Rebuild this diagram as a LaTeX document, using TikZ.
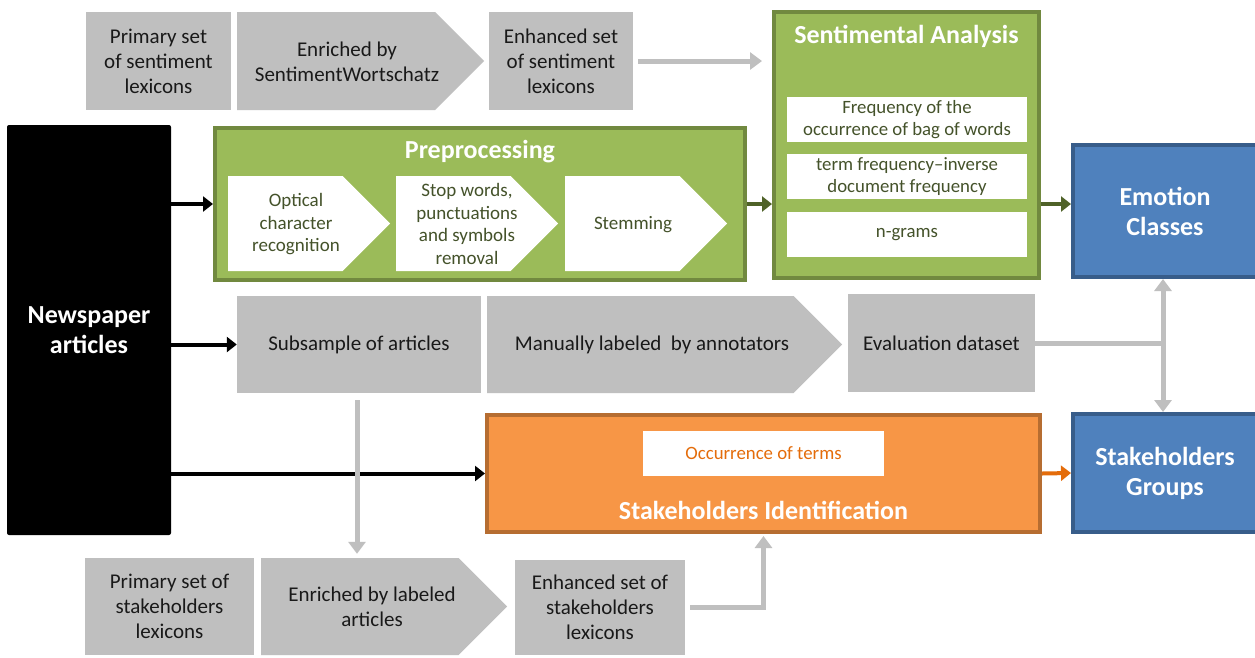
\documentclass[tikz,border=0pt]{standalone}
\usepackage{fontspec}
\setmainfont{Carlito}
\usetikzlibrary{shapes.symbols,arrows.meta,positioning}
\definecolor{lexgray}{HTML}{BFBFBF}
\definecolor{pgreen}{HTML}{9BBB59}
\definecolor{pgreendark}{HTML}{71893F}
\definecolor{arrowgreen}{HTML}{4F6228}
\definecolor{textgreen}{HTML}{44522A}
\definecolor{eblue}{HTML}{4F81BD}
\definecolor{eblueborder}{HTML}{385D8A}
\definecolor{sorange}{HTML}{F79646}
\definecolor{sorangeborder}{HTML}{B66D31}
\definecolor{otext}{HTML}{E46C0A}
\tikzset{
  graytext/.style={align=center, text=black!90, inner sep=0pt, font=\fontsize{21}{25}\selectfont},
  graybox/.style={graytext, fill=lexgray},
  graysig/.style={fill=lexgray, inner sep=0pt, signal, signal to=east, signal pointer angle=90, anchor=west},
  whitesig/.style={fill=white, inner sep=0pt, signal, signal to=east, signal pointer angle=90, anchor=west,
    minimum width=162, minimum height=95},
  sigtext/.style={align=center, text=textgreen, inner sep=0pt, font=\fontsize{19}{22.5}\selectfont},
  whitebox/.style={fill=white, inner sep=0pt, align=center, text=textgreen,
    minimum width=240, minimum height=45, font=\fontsize{18.8}{22}\selectfont},
  greenbox/.style={fill=pgreen, draw=pgreendark, line width=4pt},
  bluebox/.style={fill=eblue, draw=eblueborder, line width=4pt, text=white, align=center,
    font=\bfseries\fontsize{26}{30}\selectfont},
  title/.style={text=white, font=\bfseries\fontsize{26}{30}\selectfont},
  blackarrow/.style={line width=4pt, -{Triangle[length=10pt,width=15pt]}},
  greenarrow/.style={line width=4pt, draw=arrowgreen, -{Triangle[length=10pt,width=15pt]}},
  grayarrow/.style={line width=5pt, draw=lexgray, -{Triangle[length=12pt,width=17pt]}},
}
\begin{document}
\begin{tikzpicture}[x=1pt,y=-1pt]
\path[use as bounding box, fill=white] (0,0) rectangle (1255,657);
% SENTIMENT LEXICONS (TOP ROW)
\node[graybox, minimum width=145, minimum height=98] (pss) at (158.5,61) {Primary set\\of sentiment\\lexicons};
\node[graysig, minimum width=247, minimum height=98] (ews) at (237,61) {};
\node[graytext] (ewst) at (347,62) {Enriched by\\SentimentWortschatz};
\node[graybox, minimum width=144, minimum height=98] (ess) at (561,61) {Enhanced set\\of sentiment\\lexicons};
% NEWSPAPER ARTICLES
\node[fill=black, rounded corners=2pt, minimum width=164, minimum height=410, text=white,
  align=center, font=\bfseries\fontsize{26}{30}\selectfont] (news) at (89,330) {Newspaper\\articles};
% PREPROCESSING
\node[greenbox, minimum width=530, minimum height=152] (pre) at (480,204) {};
\node[title] (pret) at (480,152) {Preprocessing};
\node[whitesig] (ocr) at (228,223.5) {};
\node[sigtext] (ocrt) at (296,224.5) {Optical\\character\\recognition};
\node[whitesig] (stop) at (396,223.5) {};
\node[sigtext] (stopt) at (467,224) {Stop words,\\punctuations\\and symbols\\removal};
\node[whitesig] (stem) at (565,223.5) {};
\node[sigtext] (stemt) at (633,225) {Stemming};
% SENTIMENTAL ANALYSIS
\node[greenbox, minimum width=265, minimum height=266] (sa) at (906.5,145) {};
\node[title] (sat) at (906.5,36) {Sentimental Analysis};
\node[whitebox] (bow) at (907,119.5) {Frequency of the\\occurrence of bag of words};
\node[whitebox] (tfidf) at (907,176.5) {term frequency--inverse\\document frequency};
\node[whitebox] (ngr) at (907,234.5) {n-grams};
% EMOTION CLASSES AND STAKEHOLDERS GROUPS
\node[bluebox, minimum width=184, minimum height=132] (emo) at (1165,211) {Emotion\\Classes};
\node[bluebox, minimum width=184, minimum height=118] (sg) at (1165,473) {Stakeholders\\Groups};
% EVALUATION ROW
\node[graybox, minimum width=244, minimum height=97] (sub) at (359,344.5) {Subsample of articles};
\node[graysig, minimum width=355, minimum height=97] (man) at (487,344.5) {};
\node[graytext] (mant) at (652,345) {Manually labeled\ \ by annotators};
\node[graybox, minimum width=187, minimum height=98] (eval) at (941.5,343) {Evaluation dataset};
% STAKEHOLDERS IDENTIFICATION
\node[fill=sorange, draw=sorangeborder, line width=4pt, minimum width=553, minimum height=117] (sid) at (763.5,473.5) {};
\node[fill=white, minimum width=241, minimum height=45, text=otext, font=\fontsize{18.8}{22}\selectfont] (occ) at (763.5,453.5) {Occurrence of terms};
\node[title] (sidt) at (763.5,510) {Stakeholders Identification};
% STAKEHOLDERS LEXICONS (BOTTOM ROW)
\node[graybox, minimum width=169, minimum height=97] (psk) at (169.5,606.5) {Primary set of\\stakeholders\\lexicons};
\node[graysig, minimum width=246, minimum height=97] (elb) at (261,606.5) {};
\node[graytext] (elbt) at (372,606.5) {Enriched by labeled\\articles};
\node[graybox, minimum width=170, minimum height=95] (esk) at (600,607.5) {Enhanced set of\\stakeholders\\lexicons};
% ARROWS
\draw[blackarrow] (news.east |- pre.west) -- (pre.west);
\draw[blackarrow] (news.east |- sub.west) -- (sub.west);
\draw[blackarrow] (news.east |- sid.west) -- (sid.west);
\draw[greenarrow] (pre.east) -- (pre.east -| sa.west);
\draw[greenarrow] (sa.east |- pre.east) -- (emo.west |- pre.east);
\draw[line width=4pt, draw=otext, -{Triangle[length=10pt,width=15pt]}] (sid.east) -- (sg.west);
\draw[grayarrow, shorten <=5pt, shorten >=10pt] (ess.east) -- (ess.east -| sa.west);
\draw[line width=5pt, draw=lexgray] (eval.east) -- ([xshift=-2pt]eval.east -| emo.south);
\draw[grayarrow, {Triangle[length=12pt,width=17pt]}-{Triangle[length=12pt,width=17pt]}] ([xshift=-2pt]emo.south) -- ([xshift=-2pt]sg.north);
\draw[grayarrow, shorten <=7pt, shorten >=4pt] ([xshift=-2pt]sub.south) -- ([xshift=-2pt]sub.south |- elb.north);
\draw[grayarrow, shorten <=5pt, shorten >=2pt] (esk.east) -| (sid.south);
\end{tikzpicture}
\end{document}
